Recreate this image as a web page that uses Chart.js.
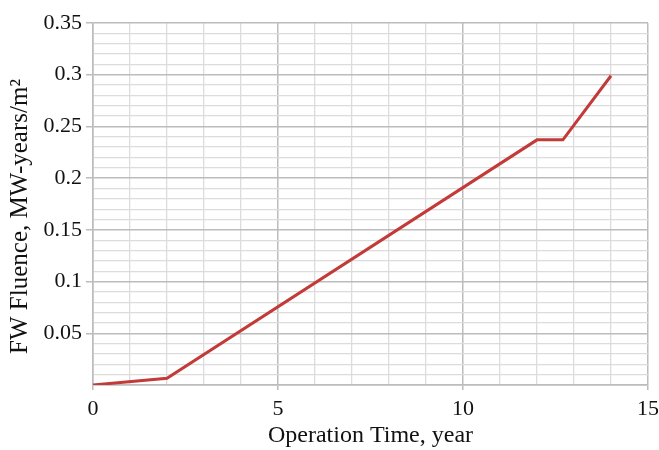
<!DOCTYPE html>
<html>
<head>
<meta charset="utf-8">
<script src="https://cdn.jsdelivr.net/npm/chart.js@4/dist/chart.umd.min.js"></script>
<style>
  html, body { margin: 0; padding: 0; background: #ffffff; }
  #wrap { width: 659px; height: 450px; }
</style>
</head>
<body>
<div id="wrap"><canvas id="c" width="659" height="450"></canvas></div>
<script>
// Operation time (years) and first-wall fluence (MW-years/m^2)
const operationYears = [0, 2, 12, 12.7, 14];
const fwFluence = [0, 0.0065, 0.237, 0.237, 0.299];

// Labelled tick values
const xMajorTicks = [0, 5, 10, 15];
const yMajorTicks = [0.05, 0.1, 0.15, 0.2, 0.25, 0.3, 0.35];

const serif = "'Liberation Serif', 'Times New Roman', serif";

function isMajorX(v) { return xMajorTicks.some(t => Math.abs(t - v) < 1e-6); }
function isMajorY(v) { return Math.abs(v) < 1e-6 || yMajorTicks.some(t => Math.abs(t - v) < 1e-6); }

const points = operationYears.map((x, i) => ({ x: x, y: fwFluence[i] }));

new Chart(document.getElementById('c'), {
  type: 'line',
  data: {
    datasets: [{
      data: points,
      borderColor: '#c23b38',
      borderWidth: 3,
      pointRadius: 0,
      tension: 0,
      fill: false
    }]
  },
  options: {
    responsive: false,
    animation: false,
    layout: { padding: { top: 23, right: 11, left: 0, bottom: 0 } },
    plugins: { legend: { display: false }, tooltip: { enabled: false } },
    scales: {
      x: {
        type: 'linear',
        min: 0, max: 15,
        afterFit: s => { s.height = 65; s.paddingLeft = 0; s.paddingRight = 0; },
        ticks: {
          stepSize: 1,
          autoSkip: false,
          maxRotation: 0,
          padding: 6,
          color: '#111',
          font: { family: serif, size: 22 },
          callback: v => isMajorX(v) ? String(v) : ''
        },
        grid: {
          color: c => isMajorX(c.tick.value) ? '#bcbcbc' : '#dcdcdc',
          lineWidth: c => isMajorX(c.tick.value) ? 1.5 : 1.3,
          tickLength: 5,
          tickColor: c => isMajorX(c.tick.value) ? '#bcbcbc' : 'rgba(0,0,0,0)'
        },
        border: { color: '#bcbcbc', width: 1.5 },
        title: {
          display: true,
          text: 'Operation Time, year',
          color: '#111',
          font: { family: serif, size: 24 },
          padding: { top: 0, bottom: 0 }
        }
      },
      y: {
        type: 'linear',
        min: 0, max: 0.35,
        afterFit: s => { s.width = 93; s.paddingTop = 0; s.paddingBottom = 0; },
        ticks: {
          stepSize: 0.01,
          autoSkip: false,
          padding: 4,
          color: '#111',
          font: { family: serif, size: 22 },
          callback: v => (v > 1e-6 && isMajorY(v)) ? String(Math.round(v * 100) / 100) : ''
        },
        grid: {
          color: c => isMajorY(c.tick.value) ? '#bcbcbc' : '#dcdcdc',
          lineWidth: c => isMajorY(c.tick.value) ? 1.5 : 1.3,
          tickLength: 7,
          tickColor: c => (c.tick.value > 1e-6 && isMajorY(c.tick.value)) ? '#bcbcbc' : 'rgba(0,0,0,0)'
        },
        border: { color: '#bcbcbc', width: 1.5 },
        title: {
          display: true,
          text: 'FW Fluence, MW-years/m²    ',
          color: '#111',
          font: { family: serif, size: 25 },
          padding: { top: 5, bottom: 0 }
        }
      }
    }
  }
});
</script>
</body>
</html>
